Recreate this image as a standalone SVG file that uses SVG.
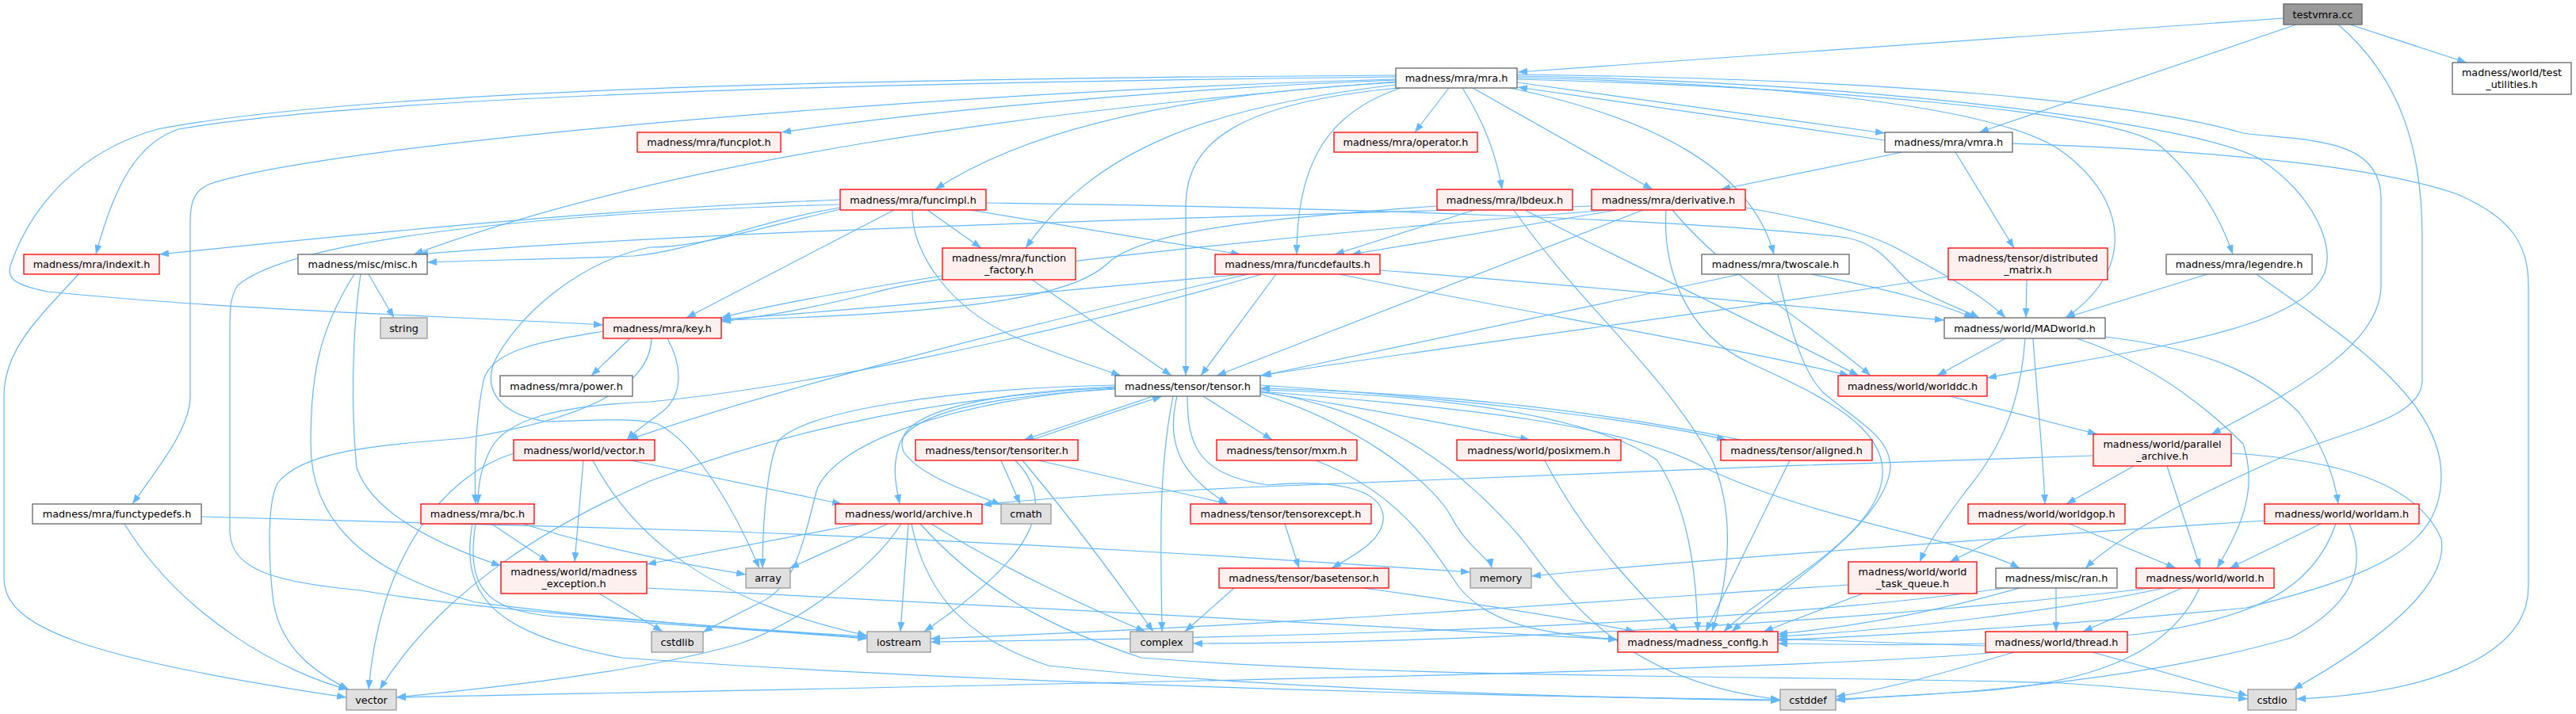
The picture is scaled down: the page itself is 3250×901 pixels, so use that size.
<svg xmlns="http://www.w3.org/2000/svg" width="3250" height="901" viewBox="0 0 3250 901">
<style>
text{font-family:"DejaVu Sans",sans-serif;font-size:12.8px;text-anchor:middle;fill:#000}
.r{fill:#fff0f0;stroke:#ff0000;stroke-width:1.3}
.w{fill:#ffffff;stroke:#666666;stroke-width:1.3}
.g{fill:#e0e0e0;stroke:#999999;stroke-width:1.3}
.k{fill:#999999;stroke:#666666;stroke-width:1.3}
#edges path{fill:none;stroke:#63b8ff;stroke-width:1.2;marker-end:url(#a)}
</style>
<defs>
<marker id="a" markerWidth="12" markerHeight="9" refX="12" refY="4.5" orient="auto" markerUnits="userSpaceOnUse"><path d="M0,0 L12,4.5 L0,9 z" fill="#63b8ff" stroke="none"/></marker>
</defs>
<rect width="3250" height="901" fill="#ffffff"/>
<g id="edges">
<path d="M2881,23 L1915,91"/>
<path d="M2897,31 L2497,167"/>
<path d="M2965,31 L3112,79"/>
<path d="M2950,31 C3030,100 3056,190 3056,300 L3056,480 C3056,525 2975,540 2888,573 C2780,620 2680,670 2631,717"/>
<path d="M1914,104 L2378,168"/>
<path d="M2378,177 L1915,110"/>
<path d="M1828,111 L1785,167"/>
<path d="M1845,111 C1870,150 1888,195 1895,239"/>
<path d="M1858,111 L2085,239"/>
<path d="M1767,111 C1680,140 1636,200 1636,321"/>
<path d="M1905,111 C2090,150 2210,215 2238,321"/>
<path d="M1761,101 C1400,115 1100,150 986,167"/>
<path d="M1761,104 C1500,118 1300,160 1180,239"/>
<path d="M1761,107 C1520,135 1380,190 1294,313"/>
<path d="M1761,103 C1300,140 850,200 522,321"/>
<path d="M1761,97 C1300,102 500,115 225,163 C175,180 145,230 121,321"/>
<path d="M1761,95 C1300,98 500,105 199,163 C100,190 40,260 15,330 C5,352 20,360 60,368 C300,392 550,398 761,410"/>
<path d="M1761,100 C1200,115 420,180 265,232 C245,240 240,255 240,280 L240,500 C240,540 200,590 167,636"/>
<path d="M1765,111 C1560,130 1496,180 1496,260 L1496,474"/>
<path d="M1914,98 C2250,105 2520,135 2600,190 C2690,255 2690,345 2606,401"/>
<path d="M1914,100 C2300,110 2650,140 2720,180 C2765,215 2800,270 2817,321"/>
<path d="M1914,96 C2400,105 2780,160 2850,200 C2920,245 2950,315 2930,350 C2890,420 2700,440 2507,477"/>
<path d="M1914,94 C2400,100 2700,130 2830,168 C2900,178 3004,170 3004,250 L3004,360 C3004,440 2880,500 2790,548"/>
<path d="M2400,192 L2171,239"/>
<path d="M2467,192 L2541,313"/>
<path d="M2539,181 C2800,190 3000,210 3100,245 C3170,275 3190,310 3190,360 L3190,740 C3190,830 3060,875 2897,882"/>
<path d="M1060,262 C950,280 880,315 800,323 C700,327 620,328 539,331"/>
<path d="M1060,252 C800,262 500,290 201,321"/>
<path d="M1128,265 L866,401"/>
<path d="M1170,265 L1238,313"/>
<path d="M1224,265 L1565,321"/>
<path d="M1151,265 C1150,320 1200,390 1280,425 C1340,450 1380,462 1414,474"/>
<path d="M1244,256 C1700,262 2150,278 2330,300 C2380,310 2390,345 2420,365 C2450,382 2480,392 2497,401"/>
<path d="M1060,258 C700,268 370,300 300,360 C290,375 290,390 290,420 L290,670 C290,720 350,735 455,745 C600,770 900,790 1094,805"/>
<path d="M1060,264 C950,290 880,312 820,312 C730,330 650,400 622,460 C610,500 640,525 690,532 C760,530 800,527 830,535 C880,560 930,650 958,717"/>
<path d="M1569,346 C1300,370 1100,390 910,403"/>
<path d="M1610,346 L1515,474"/>
<path d="M1741,341 C2000,360 2300,390 2453,404"/>
<path d="M1690,346 C1900,390 2200,440 2333,474"/>
<path d="M1575,346 C1250,420 950,500 793,555"/>
<path d="M1592,346 C1300,430 1000,490 820,507 C700,512 640,530 620,565 C607,590 603,610 603,636"/>
<path d="M1813,260 C1600,275 1450,290 1400,330 C1360,370 1250,395 910,404"/>
<path d="M1860,265 L1684,321"/>
<path d="M1924,265 C2050,330 2200,400 2345,474"/>
<path d="M1910,265 C1990,380 2100,470 2160,580 C2195,660 2175,750 2160,797"/>
<path d="M2008,260 C1500,275 900,290 528,321"/>
<path d="M2030,265 C1700,290 1200,340 1100,370 C1000,395 950,400 910,406"/>
<path d="M2040,265 L1705,321"/>
<path d="M2073,265 L1535,474"/>
<path d="M2202,262 C2330,285 2370,300 2400,317 C2440,340 2500,370 2530,401"/>
<path d="M2110,265 C2180,350 2300,420 2360,474"/>
<path d="M2102,265 C2098,330 2120,420 2212,460 C2300,500 2380,540 2375,600 C2370,680 2220,750 2175,797"/>
<path d="M2196,346 L1592,474"/>
<path d="M2285,346 C2380,365 2440,380 2490,401"/>
<path d="M2243,346 C2260,420 2275,470 2300,495 C2340,530 2385,550 2385,590 C2380,660 2250,740 2185,797"/>
<path d="M2557,353 L2556,401"/>
<path d="M2458,349 C2200,390 1800,440 1590,474"/>
<path d="M2785,346 L2606,401"/>
<path d="M2847,346 C2950,420 3080,500 3080,600 C3080,690 3000,725 2834,767 C2600,790 2400,800 2243,808"/>
<path d="M2530,427 L2444,474"/>
<path d="M2555,427 C2550,500 2530,560 2480,620 C2450,660 2430,690 2422,709"/>
<path d="M2565,427 C2570,500 2578,580 2580,636"/>
<path d="M2620,427 C2720,460 2790,520 2830,560 C2850,620 2825,670 2797,717"/>
<path d="M2656,425 C2780,440 2850,470 2900,520 C2930,560 2945,600 2950,636"/>
<path d="M2460,500 L2646,548"/>
<path d="M2692,588 L2607,636"/>
<path d="M2734,588 L2776,717"/>
<path d="M2641,575 C2300,585 1800,605 1620,613 C1450,620 1300,630 1239,637"/>
<path d="M2815,572 C2950,580 3050,610 3080,680 C3090,740 3000,810 2893,870"/>
<path d="M2557,661 L2460,709"/>
<path d="M2611,661 L2745,717"/>
<path d="M2928,661 L2813,717"/>
<path d="M2857,657 C2500,680 2100,710 1932,727"/>
<path d="M2947,661 C2920,740 2850,780 2700,800 C2550,815 2400,815 2243,812"/>
<path d="M2964,661 C2985,710 2975,760 2890,805 C2700,860 2450,878 2316,882"/>
<path d="M2753,742 L2628,797"/>
<path d="M2731,742 C2600,770 2400,795 2243,803"/>
<path d="M2715,742 C2300,790 1800,812 1505,812"/>
<path d="M2775,742 C2740,820 2650,860 2500,872 C2400,878 2350,880 2316,884"/>
<path d="M2594,742 L2594,797"/>
<path d="M2548,742 C2450,770 2350,790 2243,800"/>
<path d="M2530,742 C2200,790 1600,805 1174,810"/>
<path d="M2505,815 C2400,812 2300,808 2243,806"/>
<path d="M2640,823 L2836,878"/>
<path d="M2541,823 C2450,850 2380,870 2316,879"/>
<path d="M2520,823 C2300,845 1500,860 500,880"/>
<path d="M2350,749 L2225,797"/>
<path d="M2332,738 C2000,760 1600,790 1174,806"/>
<path d="M2258,581 L2152,797"/>
<path d="M2196,555 C2000,515 1800,495 1590,490"/>
<path d="M1455,500 L1292,555"/>
<path d="M1302,555 C1360,535 1420,515 1466,500"/>
<path d="M1518,500 L1605,555"/>
<path d="M1590,495 C1700,510 1850,540 1930,555"/>
<path d="M1590,486 C1800,500 2050,525 2178,555"/>
<path d="M1590,494 C1850,515 2050,535 2150,590 C2300,660 2480,680 2548,717"/>
<path d="M1407,491 C1250,500 1150,520 1135,560 C1125,590 1130,610 1135,636"/>
<path d="M1407,488 C1250,495 1120,520 1140,570 C1160,600 1220,620 1263,637"/>
<path d="M1407,486 C1200,490 1000,520 980,560 C965,600 962,680 962,717"/>
<path d="M1407,490 C1200,505 1050,560 1030,620 C1010,700 1000,740 960,760 C920,780 900,790 887,798"/>
<path d="M1480,500 C1460,600 1465,700 1466,797"/>
<path d="M1485,500 C1470,560 1490,600 1549,636"/>
<path d="M1498,500 C1498,560 1510,600 1600,612 C1680,605 1740,615 1745,650 C1748,680 1710,700 1680,717"/>
<path d="M1590,497 C1700,530 1800,600 1830,650 C1850,690 1880,705 1882,717"/>
<path d="M1590,492 C1800,498 2000,520 2090,580 C2130,640 2140,720 2142,797"/>
<path d="M1590,494 C1760,520 1850,600 1920,680 C1980,760 2050,860 2246,883"/>
<path d="M1407,489 C1200,500 1000,540 820,607 C700,660 560,740 479,870"/>
<path d="M1281,581 C1339,640 1297,707 1166,797"/>
<path d="M1263,581 L1287,636"/>
<path d="M1310,581 L1550,636"/>
<path d="M1290,581 C1340,640 1400,720 1455,797"/>
<path d="M1660,581 C1760,620 1800,680 1840,740 C1880,790 1950,800 2041,807"/>
<path d="M1949,581 C2000,680 2070,750 2117,797"/>
<path d="M1621,661 L1639,717"/>
<path d="M1720,742 C1850,760 1980,780 2063,797"/>
<path d="M1557,742 L1495,797"/>
<path d="M1085,661 L816,712"/>
<path d="M1120,661 L996,717"/>
<path d="M1146,661 L1136,797"/>
<path d="M1175,661 C1270,720 1380,770 1445,797"/>
<path d="M1137,661 C1100,720 1000,790 931,813 C800,850 600,870 500,880"/>
<path d="M1150,661 C1170,760 1230,810 1323,840 C1600,870 2000,880 2246,884"/>
<path d="M1161,661 C1250,760 1350,800 1440,830 C1800,858 2300,852 2600,862 C2700,868 2780,878 2836,882"/>
<path d="M756,749 L836,797"/>
<path d="M816,742 C1200,760 1700,790 2041,807"/>
<path d="M736,581 L725,709"/>
<path d="M648,572 C560,600 480,700 465,870"/>
<path d="M796,581 L1062,636"/>
<path d="M748,581 C800,680 900,760 1094,802"/>
<path d="M620,661 L692,709"/>
<path d="M660,661 C750,690 850,710 941,725"/>
<path d="M600,661 C588,740 610,770 700,778 C850,788 1000,798 1094,806"/>
<path d="M596,661 C580,750 620,800 785,830 C1200,860 1800,878 2246,883"/>
<path d="M157,661 C230,780 360,850 439,870"/>
<path d="M254,652 C500,660 700,664 900,670 C1300,685 1600,705 1855,722"/>
<path d="M99,346 C50,400 5,440 5,500 L5,730 C5,790 100,830 437,880"/>
<path d="M465,346 L497,401"/>
<path d="M455,346 C444,420 443,520 450,590 C470,650 560,690 632,714"/>
<path d="M447,346 C400,420 392,480 392,560 C392,650 450,720 600,760 C750,780 950,795 1094,803"/>
<path d="M1189,348 C1050,370 950,390 910,401"/>
<path d="M1302,353 L1478,474"/>
<path d="M795,427 L746,474"/>
<path d="M842,427 C860,460 865,500 831,523 C815,535 800,545 791,555"/>
<path d="M822,427 C820,500 700,535 586,553 C470,562 380,570 350,610 C335,640 340,720 345,760 C355,820 400,850 440,870"/>
<path d="M761,418 C690,430 620,440 610,480 C600,530 598,580 600,636"/>
</g>
<g id="n_testvmra"><rect class="k" x="2881" y="5" width="99" height="26"/><text x="2930.5" y="22.5">testvmra.cc</text></g>
<g id="n_mra"><rect class="w" x="1761" y="86" width="153" height="25"/><text x="1837.5" y="103">madness/mra/mra.h</text></g>
<g id="n_vmra"><rect class="w" x="2378" y="167" width="161" height="25"/><text x="2458.5" y="184">madness/mra/vmra.h</text></g>
<g id="n_test_utilities"><rect class="w" x="3094" y="79" width="150" height="40"/><text x="3169" y="95.5">madness/world/test</text><text x="3169" y="110.5">_utilities.h</text></g>
<g id="n_funcplot"><rect class="r" x="804" y="167" width="181" height="25"/><text x="894.5" y="184">madness/mra/funcplot.h</text></g>
<g id="n_operator"><rect class="r" x="1683" y="167" width="181" height="25"/><text x="1773.5" y="184">madness/mra/operator.h</text></g>
<g id="n_funcimpl"><rect class="r" x="1060" y="239" width="184" height="26"/><text x="1152" y="256.5">madness/mra/funcimpl.h</text></g>
<g id="n_lbdeux"><rect class="r" x="1813" y="239" width="171" height="26"/><text x="1898.5" y="256.5">madness/mra/lbdeux.h</text></g>
<g id="n_derivative"><rect class="r" x="2008" y="239" width="194" height="26"/><text x="2105" y="256.5">madness/mra/derivative.h</text></g>
<g id="n_indexit"><rect class="r" x="30" y="321" width="171" height="25"/><text x="115.5" y="338">madness/mra/indexit.h</text></g>
<g id="n_misc"><rect class="w" x="376" y="321" width="163" height="25"/><text x="457.5" y="338">madness/misc/misc.h</text></g>
<g id="n_function_factory"><rect class="r" x="1189" y="313" width="168" height="40"/><text x="1273" y="329.5">madness/mra/function</text><text x="1273" y="344.5">_factory.h</text></g>
<g id="n_funcdefaults"><rect class="r" x="1533" y="321" width="208" height="25"/><text x="1637" y="338">madness/mra/funcdefaults.h</text></g>
<g id="n_twoscale"><rect class="w" x="2147" y="321" width="186" height="25"/><text x="2240" y="338">madness/mra/twoscale.h</text></g>
<g id="n_distributed_matrix"><rect class="r" x="2458" y="313" width="201" height="40"/><text x="2558.5" y="329.5">madness/tensor/distributed</text><text x="2558.5" y="344.5">_matrix.h</text></g>
<g id="n_legendre"><rect class="w" x="2733" y="321" width="184" height="25"/><text x="2825" y="338">madness/mra/legendre.h</text></g>
<g id="n_string"><rect class="g" x="480" y="401" width="59" height="26"/><text x="509.5" y="418.5">string</text></g>
<g id="n_key"><rect class="r" x="761" y="401" width="149" height="26"/><text x="835.5" y="418.5">madness/mra/key.h</text></g>
<g id="n_madworld"><rect class="w" x="2453" y="401" width="203" height="26"/><text x="2554.5" y="418.5">madness/world/MADworld.h</text></g>
<g id="n_power"><rect class="w" x="631" y="474" width="167" height="26"/><text x="714.5" y="491.5">madness/mra/power.h</text></g>
<g id="n_tensor"><rect class="w" x="1407" y="474" width="183" height="26"/><text x="1498.5" y="491.5">madness/tensor/tensor.h</text></g>
<g id="n_worlddc"><rect class="r" x="2319" y="474" width="188" height="26"/><text x="2413" y="491.5">madness/world/worlddc.h</text></g>
<g id="n_world_vector"><rect class="r" x="648" y="555" width="178" height="26"/><text x="737" y="572.5">madness/world/vector.h</text></g>
<g id="n_tensoriter"><rect class="r" x="1155" y="555" width="205" height="26"/><text x="1257.5" y="572.5">madness/tensor/tensoriter.h</text></g>
<g id="n_mxm"><rect class="r" x="1535" y="555" width="177" height="26"/><text x="1623.5" y="572.5">madness/tensor/mxm.h</text></g>
<g id="n_posixmem"><rect class="r" x="1838" y="555" width="207" height="26"/><text x="1941.5" y="572.5">madness/world/posixmem.h</text></g>
<g id="n_aligned"><rect class="r" x="2171" y="555" width="191" height="26"/><text x="2266.5" y="572.5">madness/tensor/aligned.h</text></g>
<g id="n_parallel_archive"><rect class="r" x="2641" y="548" width="174" height="40"/><text x="2728" y="564.5">madness/world/parallel</text><text x="2728" y="579.5">_archive.h</text></g>
<g id="n_functypedefs"><rect class="w" x="41" y="636" width="213" height="25"/><text x="147.5" y="653">madness/mra/functypedefs.h</text></g>
<g id="n_bc"><rect class="r" x="531" y="636" width="143" height="25"/><text x="602.5" y="653">madness/mra/bc.h</text></g>
<g id="n_archive"><rect class="r" x="1054" y="636" width="185" height="25"/><text x="1146.5" y="653">madness/world/archive.h</text></g>
<g id="n_cmath"><rect class="g" x="1263" y="636" width="63" height="25"/><text x="1294.5" y="653">cmath</text></g>
<g id="n_tensorexcept"><rect class="r" x="1502" y="636" width="228" height="25"/><text x="1616" y="653">madness/tensor/tensorexcept.h</text></g>
<g id="n_worldgop"><rect class="r" x="2483" y="636" width="198" height="25"/><text x="2582" y="653">madness/world/worldgop.h</text></g>
<g id="n_worldam"><rect class="r" x="2857" y="636" width="195" height="25"/><text x="2954.5" y="653">madness/world/worldam.h</text></g>
<g id="n_madness_exception"><rect class="r" x="632" y="709" width="184" height="40"/><text x="724" y="725.5">madness/world/madness</text><text x="724" y="740.5">_exception.h</text></g>
<g id="n_array"><rect class="g" x="941" y="717" width="56" height="25"/><text x="969" y="734">array</text></g>
<g id="n_basetensor"><rect class="r" x="1538" y="717" width="214" height="25"/><text x="1645" y="734">madness/tensor/basetensor.h</text></g>
<g id="n_memory"><rect class="g" x="1855" y="717" width="77" height="25"/><text x="1893.5" y="734">memory</text></g>
<g id="n_world_task_queue"><rect class="r" x="2332" y="709" width="162" height="40"/><text x="2413" y="725.5">madness/world/world</text><text x="2413" y="740.5">_task_queue.h</text></g>
<g id="n_ran"><rect class="w" x="2518" y="717" width="153" height="25"/><text x="2594.5" y="734">madness/misc/ran.h</text></g>
<g id="n_world"><rect class="r" x="2695" y="717" width="174" height="25"/><text x="2782" y="734">madness/world/world.h</text></g>
<g id="n_cstdlib"><rect class="g" x="822" y="797" width="65" height="26"/><text x="854.5" y="814.5">cstdlib</text></g>
<g id="n_iostream"><rect class="g" x="1094" y="797" width="80" height="26"/><text x="1134" y="814.5">iostream</text></g>
<g id="n_complex"><rect class="g" x="1426" y="797" width="79" height="26"/><text x="1465.5" y="814.5">complex</text></g>
<g id="n_madness_config"><rect class="r" x="2041" y="797" width="202" height="26"/><text x="2142" y="814.5">madness/madness_config.h</text></g>
<g id="n_thread"><rect class="r" x="2505" y="797" width="179" height="26"/><text x="2594.5" y="814.5">madness/world/thread.h</text></g>
<g id="n_vector"><rect class="g" x="437" y="870" width="63" height="26"/><text x="468.5" y="887.5">vector</text></g>
<g id="n_cstddef"><rect class="g" x="2246" y="870" width="70" height="26"/><text x="2281" y="887.5">cstddef</text></g>
<g id="n_cstdio"><rect class="g" x="2836" y="870" width="61" height="26"/><text x="2866.5" y="887.5">cstdio</text></g>
</svg>
